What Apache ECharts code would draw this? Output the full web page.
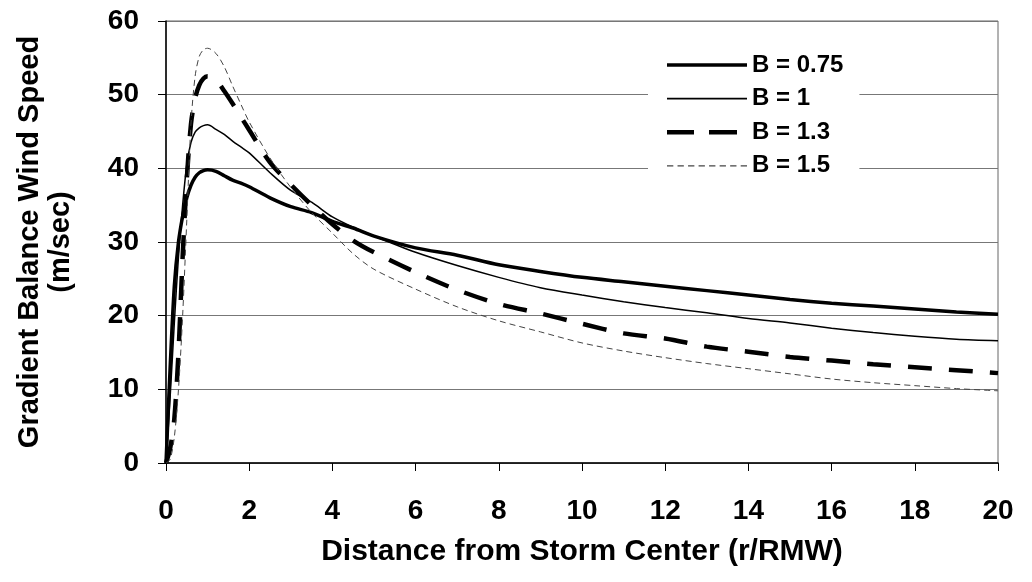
<!DOCTYPE html>
<html>
<head>
<meta charset="utf-8">
<script src="https://cdn.jsdelivr.net/npm/echarts@6/dist/echarts.min.js"></script>
<style>
  html, body { margin: 0; padding: 0; background: #fff; }
  #chart { width: 1032px; height: 582px; }
</style>
</head>
<body>
<div id="chart"></div>
<script>
// distance from storm center, r/RMW
var xs = [0, 0.1, 0.2, 0.3, 0.4, 0.5, 0.6, 0.7, 0.8, 0.9, 1.0, 1.2, 1.4, 1.6, 1.8, 2.0, 2.5, 3, 3.5, 4, 4.5, 5, 6, 7, 8, 9, 10, 11, 12, 13, 14, 15, 16, 17, 18, 19, 20];

// gradient balance wind speed (m/sec) for each Holland B
var b075 = [0, 13, 24, 30, 33.5, 36, 37.7, 38.8, 39.4, 39.7, 39.8, 39.6, 39.0, 38.4, 38.0, 37.5, 36.0, 34.8, 34.0, 32.8, 31.9, 30.8, 29.2, 28.2, 26.9, 26.0, 25.2, 24.6, 24.0, 23.4, 22.8, 22.2, 21.7, 21.3, 20.9, 20.5, 20.2];
var b1 = [0, 9, 19, 28, 35, 40.5, 43.5, 44.9, 45.5, 45.8, 45.9, 45.3, 44.6, 43.7, 42.9, 42.1, 39.4, 37.0, 35.4, 33.4, 32.0, 30.8, 28.6, 26.8, 25.2, 23.8, 22.8, 21.9, 21.1, 20.4, 19.6, 19.0, 18.3, 17.7, 17.2, 16.8, 16.6];
var b13 = [0, 2, 6, 15, 28, 38.5, 46, 49.5, 51.3, 52.2, 52.5, 52.0, 50.5, 48.8, 47.0, 45.2, 40.8, 37.8, 35.0, 32.4, 30.2, 28.6, 25.9, 23.5, 21.6, 20.3, 18.9, 17.6, 16.9, 15.8, 15.1, 14.4, 13.9, 13.4, 13.0, 12.6, 12.2];
var b15 = [0, 0.5, 3.5, 10, 20, 33, 46, 52.5, 55.2, 56.1, 56.3, 55.6, 53.8, 51.2, 48.7, 46.3, 41.4, 37.4, 34.0, 31.2, 28.4, 26.3, 23.6, 21.2, 19.3, 17.8, 16.3, 15.2, 14.3, 13.5, 12.8, 12.1, 11.4, 10.9, 10.5, 10.1, 9.8];

var seriesNames = ['B = 0.75', 'B = 1', 'B = 1.3', 'B = 1.5'];

function pairs(ys) {
  var out = [];
  for (var i = 0; i < xs.length; i++) {
    out.push([xs[i], ys[i]]);
  }
  return out;
}

// legend samples: filled strips, since line legend icons add a marker
var smallDash = '';
for (var d = 0; d < 80; d += 10) {
  smallDash += 'M' + d + ',0H' + (d + 6) + 'V1.2H' + d + 'Z';
}
var legendIcons = [
  'path://M0,0H80V3.5H0Z',
  'path://M0,0H80V1.6H0Z',
  'path://M0,0H27V4.5H0ZM42,0H70V4.5H42ZM80,0H80V4.5H80Z',
  'path://' + smallDash
];

var font = 'Liberation Sans';

var chart = echarts.init(document.getElementById('chart'), null, { renderer: 'canvas' });

function line(name, ys, style) {
  return {
    name: name,
    type: 'line',
    data: pairs(ys),
    symbol: 'none',
    showSymbol: false,
    smooth: 0.3,
    lineStyle: style,
    itemStyle: { color: style.color },
    z: 3
  };
}

chart.setOption({
  animation: false,
  backgroundColor: '#fff',
  grid: {
    left: 166, right: 34, top: 21, bottom: 119,
    show: true, borderColor: '#666', borderWidth: 1
  },
  legend: {
    show: true,
    data: seriesNames.map(function (n, i) { return { name: n, icon: legendIcons[i] }; }),
    orient: 'vertical',
    left: 648,
    top: 46,
    padding: [7, 16, 7, 19],
    backgroundColor: '#fff',
    itemWidth: 80,
    itemHeight: 18,
    itemGap: 9.6,
    z: 10,
    textStyle: { fontFamily: font, fontSize: 24, fontWeight: 'bold', color: '#000' }
  },
  xAxis: {
    type: 'value',
    min: 0, max: 20, interval: 2,
    name: 'Distance from Storm Center (r/RMW)',
    nameLocation: 'middle',
    nameGap: 74,
    nameTextStyle: { fontFamily: font, fontSize: 30, fontWeight: 'bold', color: '#000' },
    axisLine: { lineStyle: { color: '#000', width: 1.5 } },
    axisTick: { show: true, length: 8, lineStyle: { color: '#000' } },
    axisLabel: { margin: 34, fontFamily: font, fontSize: 28, fontWeight: 'bold', color: '#000' },
    splitLine: { show: false }
  },
  yAxis: {
    type: 'value',
    min: 0, max: 60, interval: 10,
    name: 'Gradient Balance Wind Speed\n(m/sec)',
    nameLocation: 'middle',
    nameGap: 90,
    nameTextStyle: { fontFamily: font, fontSize: 29, fontWeight: 'bold', color: '#000', lineHeight: 31 },
    axisLine: { show: true, lineStyle: { color: '#000', width: 1.5 } },
    axisTick: { show: true, length: 8, lineStyle: { color: '#000' } },
    axisLabel: { margin: 27, fontFamily: font, fontSize: 28, fontWeight: 'bold', color: '#000' },
    splitLine: { show: true, lineStyle: { color: '#777', width: 1 } }
  },
  series: [
    line(seriesNames[0], b075, { color: '#000', width: 3.5, type: 'solid' }),
    line(seriesNames[1], b1, { color: '#000', width: 1.5, type: 'solid' }),
    line(seriesNames[2], b13, { color: '#000', width: 4.5, type: [24, 17] }),
    line(seriesNames[3], b15, { color: '#444', width: 1, type: [6, 4] })
  ]
});
</script>
</body>
</html>
